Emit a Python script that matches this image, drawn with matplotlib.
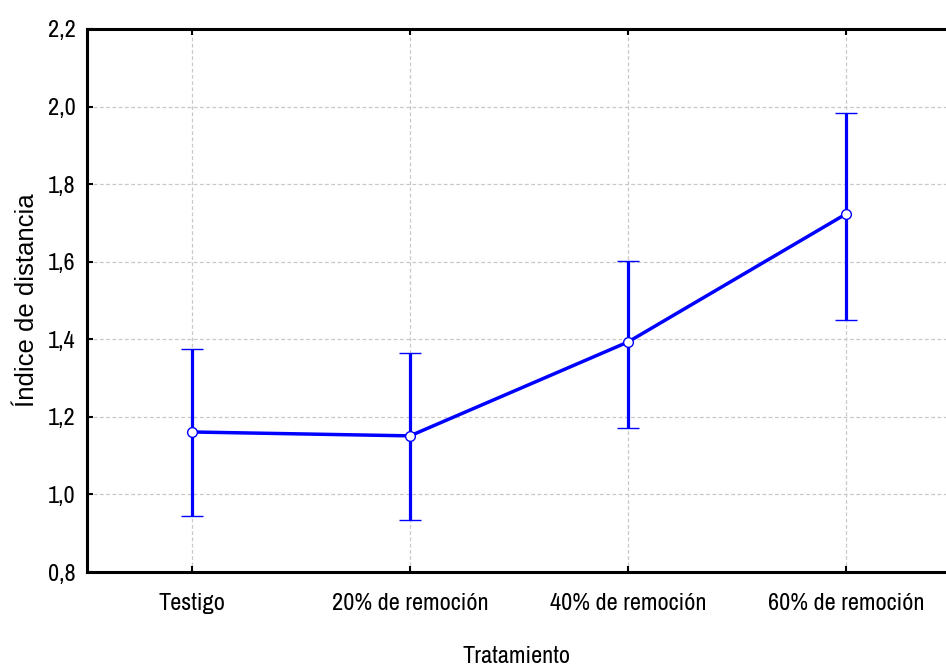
import matplotlib
matplotlib.use("Agg")
import matplotlib.pyplot as plt
from matplotlib import font_manager
from matplotlib.ticker import FuncFormatter, MultipleLocator

categories = ["Testigo", "20% de remoción", "40% de remoción", "60% de remoción"]
means = [1.161, 1.151, 1.393, 1.723]
upper = [1.375, 1.365, 1.602, 1.983]
lower = [0.944, 0.934, 1.171, 1.450]

names = {f.name for f in font_manager.fontManager.ttflist}
narrow = "Liberation Sans"
for cand in ["Liberation Sans Narrow", "Arial Narrow", "Archivo Narrow", "Roboto Condensed", "PT Sans Narrow"]:
    if cand in names:
        narrow = cand
        break

fig = plt.figure(figsize=(9.46, 6.66), dpi=100)
ax = fig.add_axes([87/946, 1-572/666, 1-87/946, (572-29)/666])

x = list(range(len(categories)))
err_lo = [m - l for m, l in zip(means, lower)]
err_hi = [u - m for m, u in zip(means, upper)]
ax.errorbar(x, means, yerr=[err_lo, err_hi], color="#0000ff", lw=2.5,
            elinewidth=2.3, capsize=8, capthick=2.8,
            marker="o", ms=7, mfc="white", mec="#0000ff", mew=1.0, zorder=3)

ax.set_xlim(-0.482, 3.459)
ax.set_ylim(0.8, 2.2)
ax.yaxis.set_major_locator(MultipleLocator(0.2))
ax.yaxis.set_major_formatter(FuncFormatter(lambda v, p: f"{v:.1f}".replace(".", ",")))
ax.set_xticks(x)
ax.set_xticklabels(categories)

ax.grid(True, color="#c8c8c8", linestyle=(0, (3, 2)), linewidth=0.9, zorder=0)
ax.set_axisbelow(True)

for s in ["left", "bottom", "top"]:
    ax.spines[s].set_linewidth(2.2)
ax.spines["right"].set_visible(False)

ax.tick_params(axis="both", direction="in", length=4, width=1.5, top=True,
               labelsize=17.5)
ax.tick_params(axis="x", pad=15)
ax.tick_params(axis="y", pad=8)
for lab in ax.get_xticklabels() + ax.get_yticklabels():
    lab.set_fontfamily(narrow)

ax.set_xlabel("Tratamiento", fontsize=17.5, fontfamily=narrow)
ax.xaxis.set_label_coords(0.5, (1 - 663/666 - (1 - 572/666)) / ((572-29)/666))
ax.xaxis.label.set_va("baseline")
ax.set_ylabel("Índice de distancia", fontsize=18.5, fontfamily="Liberation Sans")
ax.yaxis.set_label_coords((27 - 87) / (946 - 87), 0.5)
ax.yaxis.label.set_va("center")

fig.savefig("out.png", dpi=100)
